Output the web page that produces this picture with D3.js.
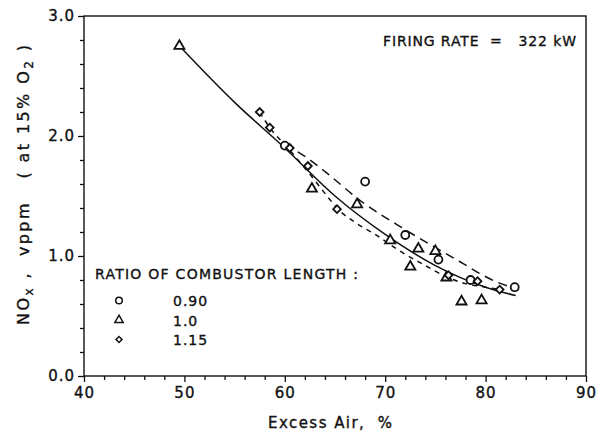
<!DOCTYPE html>
<html>
<head>
<meta charset="utf-8">
<script src="https://cdn.jsdelivr.net/npm/d3@7/dist/d3.min.js"></script>
<style>
  html, body { margin: 0; padding: 0; background: #fff; }
  svg { display: block; }
  text { font-family: "DejaVu Sans", "Liberation Sans", sans-serif; fill: #111; stroke: #111; stroke-width: 0.35px; white-space: pre; }
</style>
</head>
<body>
<svg id="chart" width="596" height="437"></svg>
<script>
// Measured NOx vs excess air, grouped by combustor length ratio
const ratio090 = [[60.0, 1.92], [68.0, 1.62], [72.0, 1.175], [75.3, 0.97], [78.5, 0.80], [82.9, 0.74]];
const ratio100 = [[49.5, 2.75], [62.7, 1.56], [67.2, 1.43], [70.5, 1.13], [72.5, 0.91], [73.3, 1.06],
                  [75.0, 1.04], [76.1, 0.82], [77.6, 0.62], [79.6, 0.63]];
const ratio115 = [[57.5, 2.20], [58.5, 2.07], [60.5, 1.90], [62.3, 1.75], [65.2, 1.39], [76.3, 0.84],
                  [79.2, 0.79], [81.4, 0.72]];

// Hand-faired trend curves through each group
const fit090 = [[60.0, 1.93], [62.0, 1.83], [64.2, 1.69], [67.7, 1.45], [71.2, 1.26], [74.8, 1.08],
                [77.5, 0.95], [79.5, 0.85], [81.2, 0.78], [83.0, 0.73]];
const fit100 = [[49.5, 2.75], [55.0, 2.28], [60.0, 1.90], [65.0, 1.50], [70.0, 1.18], [75.0, 0.92],
                [80.0, 0.74], [83.0, 0.67]];
const fit115 = [[57.5, 2.20], [58.5, 2.07], [60.3, 1.90], [62.8, 1.65], [64.3, 1.49], [65.3, 1.39],
                [67.0, 1.28], [69.0, 1.18], [71.3, 1.05], [74.0, 0.92], [76.0, 0.83], [78.0, 0.77],
                [80.0, 0.74], [81.4, 0.72]];

const xMajorTicks = [40, 50, 60, 70, 80, 90];
const xMinorTicks = d3.range(42, 90, 2).filter(v => v % 10 !== 0);
const yMajorTicks = [0, 1, 2, 3];
const yMinorTicks = [0.2, 0.4, 0.6, 0.8, 1.2, 1.4, 1.6, 1.8, 2.2, 2.4, 2.6, 2.8];

const legendTitle = "RATIO OF COMBUSTOR LENGTH :";
const legendItems = [
  { label: "0.90", shape: "circle" },
  { label: "1.0", shape: "triangle" },
  { label: "1.15", shape: "diamond" }
];
const annotation = "FIRING RATE  =   322 kW";

const svg = d3.select("#chart");
const plotLeft = 84, plotRight = 586, plotTop = 16, plotBottom = 376;

const x = d3.scaleLinear().domain([40, 90]).range([plotLeft, plotRight]);
const y = d3.scaleLinear().domain([0, 3]).range([plotBottom, plotTop]);

// spread a text run's letters so that it spans a given width
function spanTo(sel, width) {
  const node = sel.node();
  const len = node.getComputedTextLength();
  const n = node.textContent.length;
  if (n > 1) sel.style("letter-spacing", ((width - len) / (n - 1)) + "px");
  return sel;
}

// frame
svg.append("rect")
  .attr("x", plotLeft).attr("y", plotTop)
  .attr("width", plotRight - plotLeft).attr("height", plotBottom - plotTop)
  .attr("fill", "none").attr("stroke", "#111").attr("stroke-width", 1.4);

// x axis
const xAxis = svg.append("g").attr("transform", `translate(0,${plotBottom})`);
xAxis.call(d3.axisBottom(x).tickValues(xMajorTicks).tickSize(6).tickPadding(5).tickFormat(d3.format("d")));
xAxis.append("g").call(d3.axisBottom(x).tickValues(xMinorTicks).tickSize(4).tickFormat(""));
xAxis.selectAll(".domain").remove();
xAxis.selectAll("line").attr("stroke", "#111").attr("stroke-width", 1.3);
xAxis.selectAll("text").attr("font-family", null).style("font-size", "15px").style("letter-spacing", "1px").attr("fill", "#111");

// y axis
const yAxis = svg.append("g").attr("transform", `translate(${plotLeft},0)`);
yAxis.call(d3.axisLeft(y).tickValues(yMajorTicks).tickSize(6).tickPadding(3).tickFormat(d3.format(".1f")));
yAxis.append("g").call(d3.axisLeft(y).tickValues(yMinorTicks).tickSize(4).tickFormat(""));
yAxis.selectAll(".domain").remove();
yAxis.selectAll("line").attr("stroke", "#111").attr("stroke-width", 1.3);
yAxis.selectAll("text").attr("font-family", null).style("font-size", "15px").style("letter-spacing", "1px").attr("fill", "#111");

// axis titles
const xTitle = svg.append("text")
  .attr("x", 268).attr("y", 428)
  .style("font-size", "15px")
  .text("Excess Air,  %");
spanTo(xTitle, 124);

const yTitle = svg.append("text")
  .attr("transform", "translate(29,325) rotate(-90)")
  .style("font-size", "16px");
yTitle.append("tspan").text("NO");
yTitle.append("tspan").attr("dy", 4).style("font-size", "12px").text("x");
yTitle.append("tspan").attr("dy", -4).text(" ,  vppm   ( at 15% O");
yTitle.append("tspan").attr("dy", 4).style("font-size", "12px").text("2");
yTitle.append("tspan").attr("dy", -4).text(" )");
spanTo(yTitle, 280);

// trend curves
const line = d3.line().x(d => x(d[0])).y(d => y(d[1])).curve(d3.curveMonotoneX);
const curves = [
  { data: fit100, dash: null },
  { data: fit090, dash: "9,6" },
  { data: fit115, dash: "5,5" }
];
svg.selectAll("path.fit").data(curves).join("path")
  .attr("class", "fit")
  .attr("d", c => line(c.data))
  .attr("fill", "none").attr("stroke", "#111").attr("stroke-width", 1.5)
  .attr("stroke-dasharray", c => c.dash);

// markers
const symbols = {
  circle: { gen: d3.symbol().type(d3.symbolCircle).size(50), rot: 0 },
  triangle: { gen: d3.symbol().type(d3.symbolTriangle).size(44), rot: 0 },
  diamond: { gen: d3.symbol().type(d3.symbolSquare).size(30), rot: 45 }
};
function drawMarkers(data, shape) {
  const s = symbols[shape];
  svg.append("g").selectAll("path").data(data).join("path")
    .attr("transform", d => `translate(${x(d[0])},${y(d[1])}) rotate(${s.rot})`)
    .attr("d", s.gen())
    .attr("fill", "#fff").attr("stroke", "#111").attr("stroke-width", 1.8);
}
drawMarkers(ratio090, "circle");
drawMarkers(ratio100, "triangle");
drawMarkers(ratio115, "diamond");

// legend
const lg = svg.append("g");
const lgTitle = lg.append("text").attr("x", 95).attr("y", 279)
  .style("font-size", "14px")
  .text(legendTitle);
spanTo(lgTitle, 263);
const legendSymbols = {
  circle: { gen: d3.symbol().type(d3.symbolCircle).size(34), rot: 0 },
  triangle: { gen: d3.symbol().type(d3.symbolTriangle).size(30), rot: 0 },
  diamond: { gen: d3.symbol().type(d3.symbolSquare).size(18), rot: 45 }
};
legendItems.forEach((it, i) => {
  const cy = 300.5 + i * 19.5;
  const s = legendSymbols[it.shape];
  lg.append("path")
    .attr("transform", `translate(119,${cy}) rotate(${s.rot})`)
    .attr("d", s.gen())
    .attr("fill", "#fff").attr("stroke", "#111").attr("stroke-width", 1.5);
  lg.append("text").attr("x", 173).attr("y", cy + 5.5)
    .style("font-size", "14px").style("letter-spacing", "1px")
    .text(it.label);
});

// operating condition note
const note = svg.append("text").attr("x", 383).attr("y", 46)
  .style("font-size", "14px")
  .text(annotation);
spanTo(note, 193);
</script>
</body>
</html>
